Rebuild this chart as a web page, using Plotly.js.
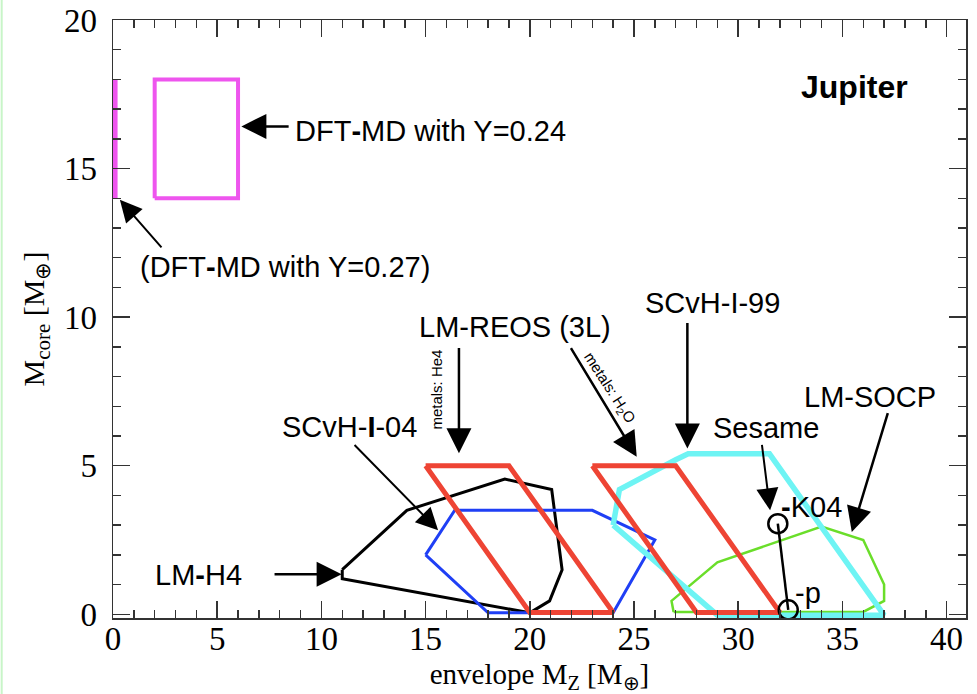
<!DOCTYPE html>
<html><head><meta charset="utf-8">
<script src="https://cdn.plot.ly/plotly-3.0.1.min.js"></script>
<style>body{margin:0;background:#fff}#chart{width:977px;height:694px}</style>
</head><body><div id="chart"></div>
<script>
// DFT-MD boxes
const dft24X = [2, 6, 6, 2, 2];
const dft24Y = [14, 14, 18, 18, 14];
const dft27X = [0.1, 0.1];
const dft27Y = [14, 18];
// LM-H4 (black)
const h4X = [11.0, 14.1, 18.8, 21.05, 21.55, 20.95, 20.0, 11.0, 11.0];
const h4Y = [1.5, 3.5, 4.55, 4.2, 1.5, 0.45, 0.05, 1.2, 1.5];
// SCvH-I-04 (blue)
const scvh04X = [15, 16.4, 23, 26, 24, 18, 15];
const scvh04Y = [2, 3.5, 3.5, 2.5, 0.05, 0.05, 2];
// LM-REOS (3L), metals He4 / H2O (red)
const reosHeX = [15, 19, 24, 20, 15];
const reosHeY = [5, 5, 0.06, 0.06, 5];
const reosH2OX = [23, 27, 32, 28, 23];
const reosH2OY = [5, 5, 0.06, 0.06, 5];
// SCvH-I-99 (cyan)
const scvh99X = [24, 24.3, 27, 27.6, 31.5, 37, 29, 24];
const scvh99Y = [3, 4.2, 5.2, 5.4, 5.4, -0.03, -0.03, 3];
// LM-SOCP (green)
const socpX = [26.9, 26.8, 29, 34, 36, 37, 37, 36, 26.9];
const socpY = [0.08, 0.45, 1.75, 2.95, 2.5, 1.0, 0.45, 0.08, 0.08];
// Sesame K04 / p
const sesameX = [31.9, 32.4];
const sesameY = [3.05, 0.15];

const xTicks = [0, 5, 10, 15, 20, 25, 30, 35, 40];
const yTicks = [0, 5, 10, 15, 20];

function poly(x, y, color, w) {
  return {x: x, y: y, type: 'scatter', mode: 'lines', line: {color: color, width: w}, hoverinfo: 'skip', showlegend: false};
}
const traces = [
  poly(h4X, h4Y, '#000000', 3),
  poly(scvh04X, scvh04Y, '#1f3ff5', 3),
  poly(socpX, socpY, '#6ade2a', 2.5),
  poly(scvh99X, scvh99Y, '#6ef4f4', 5.5),
  poly(reosHeX, reosHeY, '#ee4434', 5),
  poly(reosH2OX, reosH2OY, '#ee4434', 5),
  poly(dft24X, dft24Y, '#ee55ee', 4),
  poly(dft27X, dft27Y, '#ee55ee', 5),
  {x: sesameX, y: sesameY, type: 'scatter', mode: 'lines+markers', line: {color: '#000', width: 2.5},
   marker: {symbol: 'circle-open', size: 19, color: '#000', line: {width: 2.5, color: '#000'}}, showlegend: false, hoverinfo: 'skip'}
];

const sans = 'Liberation Sans, Arial, Helvetica, sans-serif';
const serif = 'Liberation Serif, Times New Roman, serif';
function txt(x, y, t, opts) {
  return Object.assign({x: x, y: y, xref: 'x', yref: 'y', text: t, showarrow: false,
    font: {family: sans, size: 29, color: '#000'}, xanchor: 'center', yanchor: 'middle'}, opts || {});
}
function arr(tx, ty, hx, hy, w, s) {
  return {x: hx, y: hy, ax: tx, ay: ty, xref: 'x', yref: 'y', axref: 'x', ayref: 'y', text: '',
    showarrow: true, arrowhead: 2, arrowsize: s || 2, arrowwidth: w || 2.5, arrowcolor: '#000', standoff: 0};
}
const annotations = [
  txt(8.63, 16.28, 'DFT<b>-</b>MD with Y=0.24', {xanchor: 'left'}),
  arr(8.5, 16.42, 6.16, 16.42, 2.5, 2),
  txt(1.2, 11.68, '(DFT<b>-</b>MD with Y=0.27)', {xanchor: 'left'}),
  arr(2.39, 12.3, 0.33, 13.95, 2, 2.2),
  txt(35.56, 17.73, '<b>Jupiter</b>', {font: {family: sans, size: 32, color: '#000'}}),
  txt(19.28, 9.68, 'LM-REOS (3L)'),
  arr(16.6, 9.01, 16.6, 5.42, 2.5, 2),
  arr(21.93, 9.01, 25.13, 5.3, 2.5, 2),
  txt(15.53, 7.55, 'metals: He4', {textangle: -90, font: {family: sans, size: 15, color: '#000'}}),
  txt(23.8, 7.63, 'metals: H<sub>2</sub>O', {textangle: 57, font: {family: sans, size: 15, color: '#000'}}),
  txt(28.77, 10.47, 'SCvH-I-99'),
  arr(27.56, 9.85, 27.56, 5.58, 2.5, 2),
  txt(11.36, 6.31, 'SCvH-<b>I</b>-04'),
  arr(11.52, 5.75, 15.6, 2.83, 2, 2.2),
  txt(36.33, 7.32, 'LM-SOCP'),
  arr(37.2, 6.82, 35.45, 2.77, 2.5, 2),
  txt(31.33, 6.26, 'Sesame'),
  arr(31.13, 5.75, 31.53, 3.5, 2, 2.2),
  txt(31.96, 3.62, '<b>-</b>K04', {xanchor: 'left'}),
  txt(32.65, 0.7, '-p', {xanchor: 'left'}),
  txt(4.12, 1.31, 'LM<b>-</b>H4'),
  arr(7.68, 1.35, 10.97, 1.35, 2.5, 2)
];

const axisCommon = {
  showgrid: false, zeroline: false, showline: true, linecolor: '#333', linewidth: 1.5,
  mirror: 'allticks', ticks: 'inside', ticklen: 17, tickwidth: 1.5, tickcolor: '#333',
  tickfont: {family: serif, size: 33, color: '#000'}
};
const layout = {
  width: 977, height: 694,
  margin: {l: 113, r: 11, t: 20, b: 76},
  paper_bgcolor: '#fff', plot_bgcolor: '#fff',
  showlegend: false,
  xaxis: Object.assign({}, axisCommon, {
    range: [0, 40.93], tickmode: 'array', tickvals: xTicks, ticktext: xTicks.map(String),
    minor: {dtick: 1, ticks: 'inside', ticklen: 8, tickwidth: 1.5, tickcolor: '#333'},
    ticklabelstandoff: -9,
    title: {text: 'envelope M<sub>Z</sub> [M<sub>⊕</sub>]', font: {family: serif, size: 29, color: '#000'}, standoff: 10}
  }),
  yaxis: Object.assign({}, axisCommon, {
    range: [-0.125, 20], tickmode: 'array', tickvals: yTicks, ticktext: yTicks.map(String),
    minor: {dtick: 1, ticks: 'inside', ticklen: 8, tickwidth: 1.5, tickcolor: '#333'},
    ticklabelstandoff: 8,
    title: {text: 'M<sub>core</sub> [M<sub>⊕</sub>]', font: {family: serif, size: 30, color: '#000'}, standoff: 10}
  }),
  annotations: annotations,
  shapes: [{type: 'line', xref: 'paper', yref: 'paper', x0: -0.1305, x1: -0.1305, y0: -0.13, y1: 1.04,
            line: {color: '#c8f5c8', width: 2}}]
};
Plotly.newPlot('chart', traces, layout, {displayModeBar: false, staticPlot: true});
</script></body></html>
